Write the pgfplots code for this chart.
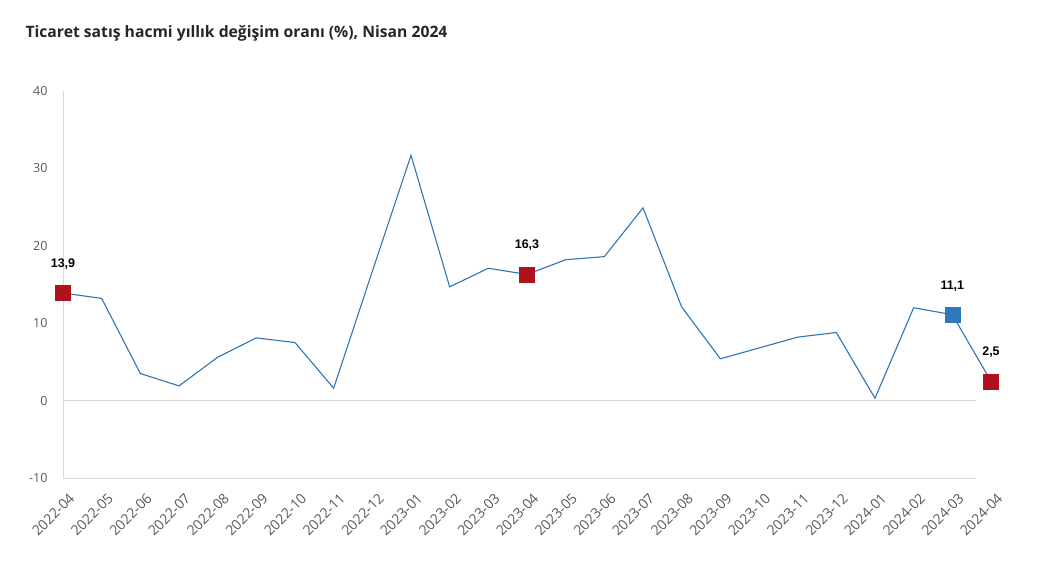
\documentclass[border=0pt]{standalone}
\usepackage{pgfplots}
\pgfplotsset{compat=1.18}
\usepackage{fontspec}
\setmainfont{Open Sans}
\newfontfamily\labelfont{Liberation Sans}
\definecolor{linec}{RGB}{46,117,182}
\definecolor{redm}{RGB}{176,18,27}
\definecolor{bluem}{RGB}{46,121,186}
\definecolor{gridc}{RGB}{217,217,217}
\definecolor{tickc}{RGB}{89,89,89}
\definecolor{titlec}{RGB}{38,38,38}

\begin{document}
\begin{tikzpicture}
\path[use as bounding box] (-63pt,-94pt) rectangle (977pt,478pt);
\node[anchor=base west, font=\fontsize{15.7}{18}\selectfont\bfseries, text=titlec]
  at (-41pt,440pt) {Ticaret satış hacmi yıllık değişim oranı (\%), Nisan 2024};
\begin{axis}[
  scale only axis, width=928pt, height=387pt,
  xmin=0, xmax=24, ymin=-10, ymax=40,
  ytick={-10,0,...,40},
  xtick={0,...,24},
  xticklabels={2022-04,2022-05,2022-06,2022-07,2022-08,2022-09,2022-10,2022-11,2022-12,
    2023-01,2023-02,2023-03,2023-04,2023-05,2023-06,2023-07,2023-08,2023-09,2023-10,2023-11,2023-12,
    2024-01,2024-02,2024-03,2024-04},
  axis line style={draw=none}, major tick length=0pt,
  clip=false,
  /pgf/number format/assume math mode=true,
  tick label style={font=\fontsize{12.5}{14}\selectfont, text=tickc},
  yticklabel style={xshift=-12pt},
  xticklabel style={font=\fontsize{14}{16}\selectfont, rotate=45, anchor=east, xshift=-3pt, yshift=-19pt},
]
\draw[gridc, line width=0.8pt] (axis cs:0,-10) -- (axis cs:0,40);
\draw[gridc, line width=0.8pt] (axis cs:0,-10) -- (axis cs:23.6,-10);
\draw[gridc, line width=0.8pt] (axis cs:0,0) -- (axis cs:23.6,0);

\addplot[linec, line width=1.1pt, mark=none] coordinates {
  (0,13.9) (1,13.2) (2,3.5) (3,1.9) (4,5.6) (5,8.1) (6,7.5) (7,1.6) (8,16.7)
  (9,31.7) (10,14.7) (11,17.1) (12,16.3) (13,18.2) (14,18.6) (15,24.9) (16,12.1)
  (17,5.4) (18,6.8) (19,8.2) (20,8.8) (21,0.3) (22,12.0) (23,11.1) (24,2.5)
};

\pgfplotsset{every node near coord/.append style={anchor=center, yshift=29pt,
  font=\labelfont\fontsize{12.5}{14}\selectfont\bfseries, text=black}}

\addplot[only marks, mark=square*, mark size=7.5pt, redm,
  nodes near coords, point meta=explicit symbolic] coordinates {
  (0,13.9) [13,9]
  (12,16.3) [16,3]
  (24,2.5) [2,5]
};

\addplot[only marks, mark=square*, mark size=7.5pt, bluem,
  nodes near coords, point meta=explicit symbolic] coordinates {
  (23,11.1) [11,1]
};
\end{axis}
\end{tikzpicture}
\end{document}
